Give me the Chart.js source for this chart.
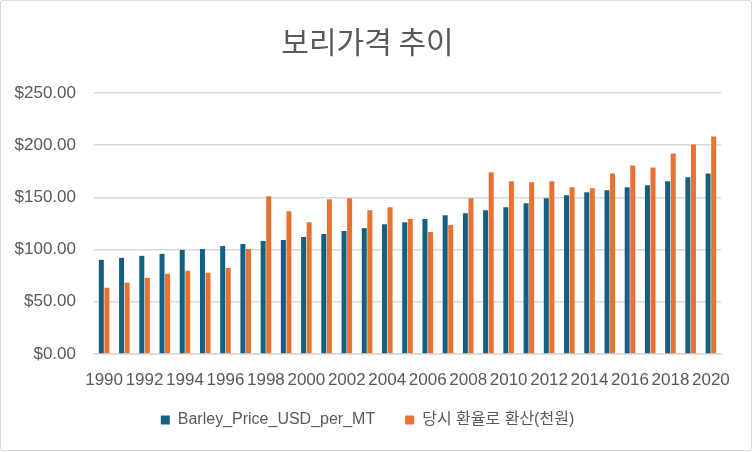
<!DOCTYPE html>
<html>
<head>
<meta charset="utf-8">
<script src="https://cdn.jsdelivr.net/npm/chart.js@4/dist/chart.umd.min.js"></script>
<style>
  html, body { margin: 0; padding: 0; background: #fff; }
  #wrap { position: absolute; left: 0; top: 0; width: 750px; height: 449px; border: 1px solid #d9d9d9; border-radius: 2px; background: #fff; }
  canvas { display: block; }
</style>
</head>
<body>
<div id="wrap"><canvas id="c" width="750" height="449"></canvas></div>
<script>
const years = ['1990','1991','1992','1993','1994','1995','1996','1997','1998','1999','2000','2001','2002','2003','2004','2005','2006','2007','2008','2009','2010','2011','2012','2013','2014','2015','2016','2017','2018','2019','2020'];
const barleyUSD = [90.2,92.1,94.0,95.9,99.7,100.6,103.5,105.4,108.3,109.2,112.1,114.9,117.8,120.6,124.4,126.3,129.2,133.0,134.9,137.8,140.6,144.4,149.2,152.1,154.9,156.8,159.7,161.6,165.4,169.2,173.0];
const krwThousand = [63.5,68.3,73.0,76.8,79.7,77.8,82.5,100.6,151.1,136.8,126.3,148.3,149.2,137.8,140.6,129.2,116.8,123.5,149.2,174.0,165.4,164.4,165.4,159.7,158.7,173.0,180.6,178.7,192.1,200.6,208.3];
const seriesNames = ['Barley_Price_USD_per_MT','당시 환율로 환산(천원)'];
const chartTitle = '보리가격 추이';
const yTicks = [0,50,100,150,200,250];

const FONT = "'Liberation Sans', 'Noto Sans CJK KR', sans-serif";
const TFONT = "'Noto Sans CJK KR', sans-serif";
const GREY = '#595959';

const legendShift = {
  id: 'legendShift',
  afterLayout(chart) {
    const l = chart.legend;
    if (l) { l.top -= 9; l.bottom -= 9; }
  }
};

new Chart(document.getElementById('c'), {
  type: 'bar',
  data: {
    labels: years,
    datasets: [
      { label: seriesNames[0], data: barleyUSD, backgroundColor: '#156082', categoryPercentage: 0.55, barPercentage: 0.9 },
      { label: seriesNames[1], data: krwThousand, backgroundColor: '#E97132', categoryPercentage: 0.55, barPercentage: 0.9 }
    ]
  },
  plugins: [legendShift],
  options: {
    responsive: false,
    animation: false,
    devicePixelRatio: 1,
    layout: { padding: { left: 13, right: 30, top: 23, bottom: 3 } },
    plugins: {
      title: {
        display: true, text: chartTitle, color: GREY,
        font: { family: TFONT, size: 30, weight: 'normal', lineHeight: 1.2 },
        padding: { top: 0, bottom: 33 }
      },
      legend: {
        position: 'bottom',
        labels: {
          color: GREY, boxWidth: 9, boxHeight: 9, padding: 30,
          font: { family: FONT, size: 16 }
        }
      },
      tooltip: { enabled: false }
    },
    scales: {
      x: {
        grid: { display: false, drawTicks: false },
        border: { display: true, color: '#d9d9d9', width: 1.5 },
        afterFit: function(scale) { scale.paddingLeft = 0; scale.paddingRight = 0; scale.height = 37; },
        ticks: {
          color: GREY, font: { family: FONT, size: 17 }, autoSkip: false, maxRotation: 0, padding: 16,
          callback: function(v, i) { return i % 2 === 0 ? years[i] : ''; }
        }
      },
      y: {
        min: 0, max: 250,
        afterBuildTicks: function(axis) { axis.ticks = yTicks.map(v => ({ value: v })); },
        afterFit: function(scale) { scale.width = 80; },
        grid: { color: '#d9d9d9', lineWidth: 1.5, drawTicks: false },
        border: { display: false },
        ticks: {
          color: GREY, font: { family: FONT, size: 17 }, padding: 18,
          callback: v => '$' + Number(v).toFixed(2)
        }
      }
    }
  }
});
</script>
</body>
</html>
